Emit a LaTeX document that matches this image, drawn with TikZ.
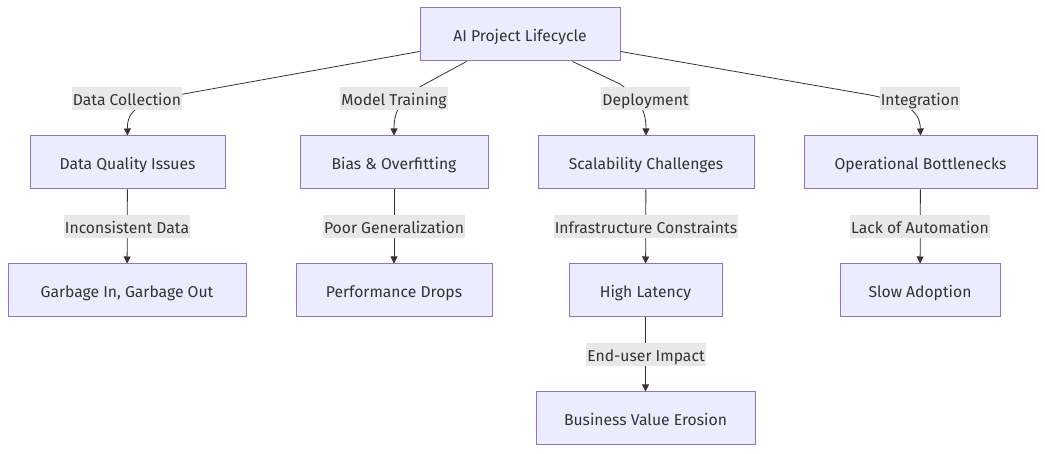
\documentclass[tikz,border=0pt]{standalone}
\usepackage{fontspec}
\setmainfont{Fira Sans}
\usetikzlibrary{arrows.meta,calc}
\definecolor{nodefill}{HTML}{ECECFF}
\definecolor{nodeline}{HTML}{9370DB}
\definecolor{ink}{HTML}{333333}
\definecolor{lblbg}{HTML}{E8E8E8}
\tikzset{
  box/.style={draw=nodeline, fill=nodefill, line width=1pt, minimum height=53pt, inner sep=0pt, text height=14pt, text depth=0.5pt, text=ink, font=\fontsize{15.7}{18}\selectfont},
  lbl/.style={fill=lblbg, text=ink, inner xsep=1pt, inner ysep=0pt, minimum height=23pt, text height=14pt, text depth=0.5pt, font=\fontsize{15.7}{18}\selectfont},
  edge/.style={draw=ink, line width=0.8pt, -{Triangle[length=7pt,width=7pt]}},
}
\begin{document}
\begin{tikzpicture}[x=1pt,y=-1pt]
\useasboundingbox (0,0) rectangle (1045,454);
% nodes
\node[box, minimum width=200pt] (top) at (520,34.5) {AI Project Lifecycle};
\node[box, minimum width=195pt] (dq) at (127.5,162.5) {Data Quality Issues};
\node[box, minimum width=188pt] (bo) at (394,162.5) {Bias \& Overfitting};
\node[box, minimum width=216pt] (sc) at (646,162.5) {Scalability Challenges};
\node[box, minimum width=233pt] (ob) at (920.5,162.5) {Operational Bottlenecks};
\node[box, minimum width=238pt] (gi) at (127,290.5) {Garbage In, Garbage Out};
\node[box, minimum width=196pt] (pd) at (394,290.5) {Performance Drops};
\node[box, minimum width=153pt] (hl) at (645.5,290.5) {High Latency};
\node[box, minimum width=160pt] (sa) at (920,290.5) {Slow Adoption};
\node[box, minimum width=219pt] (bv) at (645.5,418.5) {Business Value Erosion};
% edges
\draw[edge] ($(top.south west)+(0,-10)$) -- (178,95) .. controls (140,102) and (127,110) .. (dq.north);
\draw[edge] ($(top.south west)+(47,0)$) -- (425,84) .. controls (400,98) and (394,112) .. (bo.north);
\draw[edge] ($(top.south west)+(153,0)$) -- (620,84) .. controls (640,98) and (646,112) .. (sc.north);
\draw[edge] ($(top.south east)+(0,-10)$) -- (870,95) .. controls (905,102) and (920,110) .. (ob.north);
\draw[edge] (dq) -- (gi);
\draw[edge] (bo) -- (pd);
\draw[edge] (sc) -- (hl);
\draw[edge] (ob) -- (sa);
\draw[edge] (hl) -- (bv);
% labels
\node[lbl] (l1) at (127,98.5) {Data Collection};
\node[lbl] (l2) at (394,98.5) {Model Training};
\node[lbl] (l3) at (645.5,98.5) {Deployment};
\node[lbl] (l4) at (920,98.5) {Integration};
\node[lbl] (l5) at (127,226.5) {Inconsistent Data};
\node[lbl] (l6) at (394,226.5) {Poor Generalization};
\node[lbl] (l7) at (646,226.5) {Infrastructure Constraints};
\node[lbl] (l8) at (920,226.5) {Lack of Automation};
\node[lbl] (l9) at (646,354.5) {End-user Impact};
\end{tikzpicture}
\end{document}
